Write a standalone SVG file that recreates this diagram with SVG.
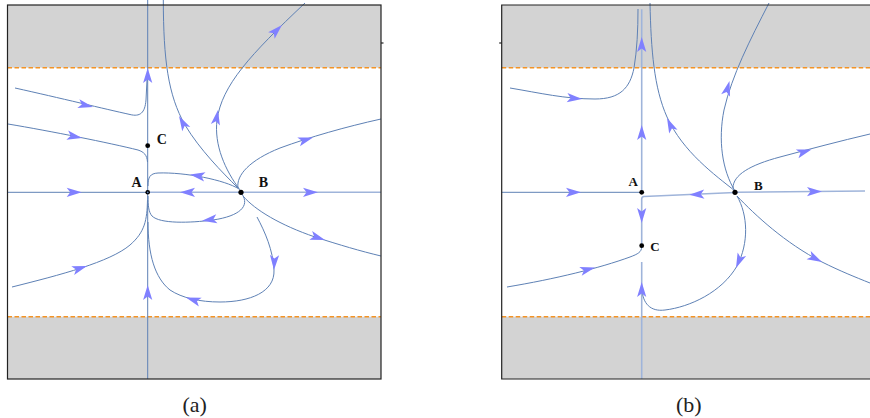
<svg xmlns="http://www.w3.org/2000/svg" xmlns:xlink="http://www.w3.org/1999/xlink" width="870" height="418" viewBox="0 0 870 418">
<style>
.gray{fill:#d3d3d3;stroke:none}
.frame{fill:none;stroke:#222;stroke-width:1.2}
.dash{fill:none;stroke:#f39325;stroke-width:1.4;stroke-dasharray:4.5 2.5}
.sl{fill:none;stroke:#5e81b5;stroke-width:1}
.lt{fill:none;stroke:#9fb4da;stroke-width:1.6}
.ah{fill:#8080ff;stroke:none}
.dot{fill:#000}
.lbl{font-family:"Liberation Serif","Times New Roman",serif;font-weight:bold;fill:#111}
.cap{font-family:"Liberation Serif","Times New Roman",serif;font-size:22px;fill:#222;text-anchor:middle}
</style>
<defs>
<path id="ah" d="M0,0 L-15,-4.6 L-11.5,0 L-15,4.6 Z"/>
</defs>
<g id="panel-a-bg">
<rect class="gray" x="7.5" y="5" width="373.5" height="62.7"/>
<rect class="gray" x="7.5" y="316.7" width="373.5" height="62.3"/>
<line class="dash" x1="7.5" y1="67.7" x2="381" y2="67.7"/>
<line class="dash" x1="7.5" y1="316.7" x2="381" y2="316.7"/>
</g>
<g id="panel-b-bg">
<rect class="gray" x="501.7" y="5" width="368.3" height="62.7"/>
<rect class="gray" x="501.7" y="316.7" width="368.3" height="62.3"/>
<line class="dash" x1="501.7" y1="67.7" x2="870" y2="67.7"/>
<line class="dash" x1="501.7" y1="316.7" x2="870" y2="316.7"/>
</g>
<g id="connectors">
<path class="sl" d="M147.7,0 L147.7,379"/>
<path class="sl" d="M15,88 C60,98 105,109 130,114.5 C140,117 145,113 146,100 L147,80"/>
<path class="sl" d="M8,124 C50,131 110,143 138,150 C144,152 147,155 147.5,162"/>
<path class="sl" d="M7.5,192.3 L147.7,192.3"/>
<path class="lt" d="M241,192.3 L149,192.3"/>
<path class="sl" d="M239,189 C225,180 185,172 158,173 C150,173.5 148,177 148,186"/>
<path class="sl" d="M242,194 C250,206 240,216 213,220 C190,223 160,224 152,216 C148.5,212 148,205 148,196"/>
<path class="sl" d="M257,217 C265,232 273,250 274,270 C275,292 250,302 220,302 C200,302 182,298 170,290 C155,278 148,255 148,222"/>
<path class="sl" d="M12,287 C60,275 110,262 130,245 C145,232 147,220 147.5,200"/>
<path class="sl" d="M163.3,0 C163.5,60 168,95 185,125 C200,150 222,172 238,188"/>
<path class="sl" d="M240,190 C225,170 214,145 217,120 C222,85 250,55 305,3"/>
<path class="sl" d="M238,188 C236,175 250,160 280,148 C310,137 345,127 381,119"/>
<path class="lt" d="M243,192.3 L381,192.3"/>
<path class="sl" d="M243,196 C255,210 280,225 315,237 C340,245 360,251 381,256"/>
<use href="#ah" class="ah" transform="translate(147.7,68) rotate(-90)"/>
<use href="#ah" class="ah" transform="translate(147.7,285) rotate(-90)"/>
<use href="#ah" class="ah" transform="translate(93,107) rotate(13)"/>
<use href="#ah" class="ah" transform="translate(82,138) rotate(11)"/>
<use href="#ah" class="ah" transform="translate(81.7,192.3)"/>
<use href="#ah" class="ah" transform="translate(180,192.3) rotate(180)"/>
<use href="#ah" class="ah" transform="translate(190,174.5) rotate(189)"/>
<use href="#ah" class="ah" transform="translate(202,220.8) rotate(172)"/>
<use href="#ah" class="ah" transform="translate(274,270) rotate(92)"/>
<use href="#ah" class="ah" transform="translate(186,297.5) rotate(198)"/>
<use href="#ah" class="ah" transform="translate(87,266) rotate(-18)"/>
<use href="#ah" class="ah" transform="translate(179,116) rotate(-119)"/>
<use href="#ah" class="ah" transform="translate(218,110) rotate(-80)"/>
<use href="#ah" class="ah" transform="translate(282,25) rotate(-45)"/>
<use href="#ah" class="ah" transform="translate(313,137.5) rotate(-17)"/>
<use href="#ah" class="ah" transform="translate(318,192.3)"/>
<use href="#ah" class="ah" transform="translate(325,240) rotate(18)"/>
<path class="lt" d="M641.7,192.3 L641.7,9.3"/>
<path class="sl" d="M510,88 C540,93 565,99 595,99 C620,99 630,88 634,68 C637,50 638,30 638,9"/>
<path class="sl" d="M650,3 C651,50 654,88 667,117 C683,152 715,175 735,191"/>
<path class="sl" d="M735,191 C722,170 718,140 724,110 C732,75 750,40 769,3"/>
<path class="sl" d="M733,188 C733,175 750,165 780,157 C810,149 840,141 870,134"/>
<path class="sl" d="M501.7,192.3 L641.7,192.3"/>
<path class="lt" d="M735,192.5 L644,196.5 Q641.7,196.6 641.7,199 L641.7,245"/>
<path class="sl" d="M507,287 C555,279 600,268 630,257 C638,254 641.5,252 641.7,247"/>
<path class="lt" d="M641.7,379 L641.7,262"/>
<path class="sl" d="M737,196 C748,215 749,243 737,266 C722,292 690,307 665,310 C650,312 643,303 642,290"/>
<path class="sl" d="M737,196 C755,215 785,243 822,262 C840,271 855,277 870,283"/>
<path class="lt" d="M737,192.3 L865,191"/>
<use href="#ah" class="ah" transform="translate(641.7,125) rotate(-90)"/>
<use href="#ah" class="ah" transform="translate(641.7,37) rotate(-90)"/>
<use href="#ah" class="ah" transform="translate(582,99) rotate(5)"/>
<use href="#ah" class="ah" transform="translate(667,118) rotate(-115)"/>
<use href="#ah" class="ah" transform="translate(729.5,81) rotate(-75)"/>
<use href="#ah" class="ah" transform="translate(811.5,149.5) rotate(-17)"/>
<use href="#ah" class="ah" transform="translate(581,192.3)"/>
<use href="#ah" class="ah" transform="translate(689.3,194.7) rotate(178)"/>
<use href="#ah" class="ah" transform="translate(641.7,223) rotate(90)"/>
<use href="#ah" class="ah" transform="translate(595,267.5) rotate(-15)"/>
<use href="#ah" class="ah" transform="translate(641.7,282) rotate(-90)"/>
<use href="#ah" class="ah" transform="translate(736,268) rotate(113)"/>
<use href="#ah" class="ah" transform="translate(822,262) rotate(27)"/>
<use href="#ah" class="ah" transform="translate(822,191.6)"/>
</g>
<g id="frames">
<rect class="frame" x="7.5" y="5" width="373.5" height="374"/>
<line class="frame" x1="381" y1="43" x2="383.5" y2="43"/>
<path class="frame" d="M870,5 L501.7,5 L501.7,379 L870,379"/>
<line class="frame" x1="499.2" y1="43" x2="501.7" y2="43"/>
</g>
<g id="a-A"><circle class="dot" cx="147.7" cy="192.3" r="2.3"/><circle cx="147.7" cy="192.3" r="0.9" fill="#5e81b5"/><text class="lbl" x="136.5" y="186.5" font-size="14" text-anchor="middle">A</text></g>
<g id="a-B"><circle class="dot" cx="241" cy="192.3" r="2.6"/><text class="lbl" x="263.5" y="186.5" font-size="14" text-anchor="middle">B</text></g>
<g id="a-C"><circle class="dot" cx="147.7" cy="145.7" r="2.4"/><text class="lbl" x="161.7" y="143.5" font-size="14" text-anchor="middle">C</text></g>
<g id="b-A"><circle class="dot" cx="641.7" cy="192.3" r="2.4"/><text class="lbl" x="633.3" y="186" font-size="13" text-anchor="middle">A</text></g>
<g id="b-B"><circle class="dot" cx="735" cy="192.3" r="2.6"/><text class="lbl" x="758.3" y="189.5" font-size="13" text-anchor="middle">B</text></g>
<g id="b-C"><circle class="dot" cx="641.7" cy="245.7" r="2.4"/><text class="lbl" x="655" y="250.5" font-size="13" text-anchor="middle">C</text></g>
<g id="captions">
<text class="cap" x="194.7" y="412">(a)</text>
<text class="cap" x="688.8" y="412">(b)</text>
</g>
</svg>
